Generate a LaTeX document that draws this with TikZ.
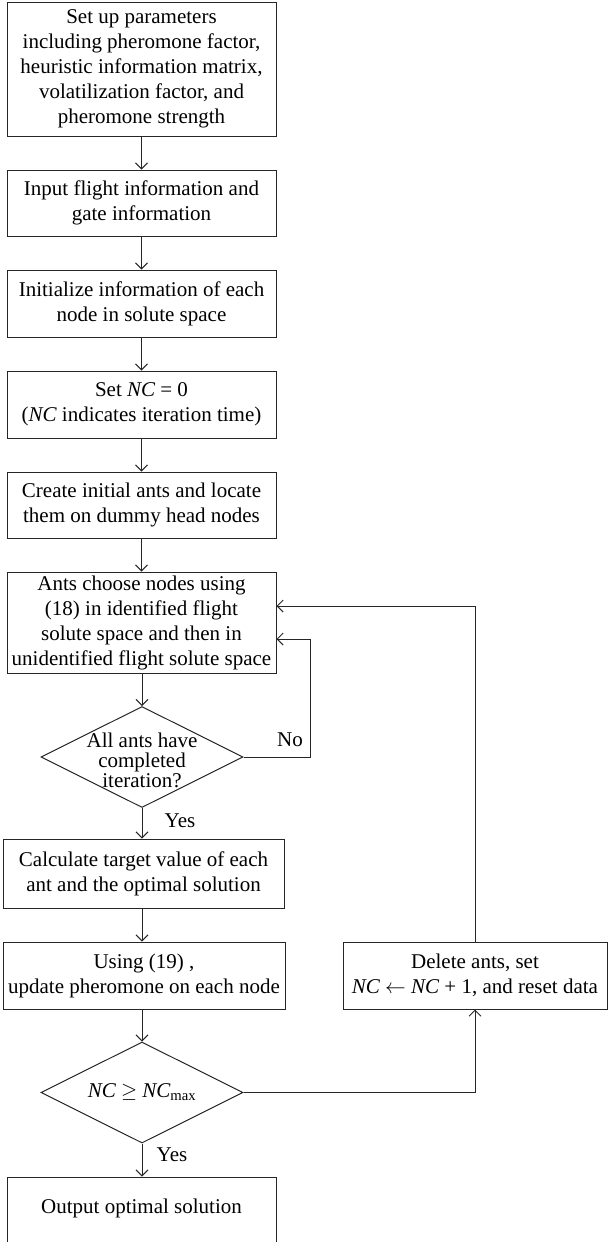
\documentclass[tikz,border=0pt]{standalone}
\usepackage{fontspec}
\setmainfont{Liberation Serif}
\usetikzlibrary{arrows.meta,shapes.geometric}
\newcommand\bfnt{\fontsize{21}{25}\selectfont}
\newcommand\dfnt{\fontsize{21}{20}\selectfont}
\newcommand\ncv{{\itshape NC}}
\begin{document}
\begin{tikzpicture}[x=1pt,y=-1pt,
  line/.style={draw=black!85, line width=1pt},
  box/.style={line, rectangle, minimum width=269pt, inner sep=0pt, align=center, font=\bfnt},
  dia/.style={line, diamond, minimum width=202pt, minimum height=101pt, inner sep=0pt},
  dtext/.style={align=center, font=\dfnt, inner sep=0pt},
  lbl/.style={font=\bfnt, inner sep=0pt},
  arr/.style={line, -{Straight Barb[length=6pt,width=12pt]}}]
\useasboundingbox (0,0) rectangle (608,1242);
\clip (0,0) rectangle (608,1242);

\node[box, minimum height=134pt] (b1) at (141.5,69) {Set up parameters\\including pheromone factor,\\heuristic information matrix,\\volatilization factor, and\\pheromone strength};
\node[box, minimum height=66pt] (b2) at (141.5,203) {Input flight information and\\gate information};
\node[box, minimum height=67pt] (b3) at (141.5,303.5) {Initialize information of each\\node in solute space};
\node[box, minimum height=67pt] (b4) at (141.5,404.5) {Set \ncv{} = 0\\(\ncv{} indicates iteration time)};
\node[box, minimum height=66pt] (b5) at (141.5,505) {Create initial ants and locate\\them on dummy head nodes};
\node[box, minimum height=101pt] (b6) at (141.5,622.5) {Ants choose nodes using\\(18) in identified flight\\solute space and then in\\unidentified flight solute space};
\node[dia] (d1) at (142,757) {};
\node[dtext] (d1t) at (142,760) {All ants have\\completed\\iteration?};
\node[box, minimum width=281pt, minimum height=69pt] (b7) at (143.5,873.5) {Calculate target value of each\\ant and the optimal solution};
\node[box, minimum width=282pt, minimum height=67pt] (b8) at (144,975.5) {Using (19) ,\\update pheromone on each node};
\node[dia] (d2) at (142,1092.5) {};
\node[dtext, font=\bfnt] (d2t) at (142,1092.5) {\ncv{} $\geq$ \ncv\textsubscript{max}};
\node[box, minimum width=264pt, minimum height=67pt] (del) at (475,975.5) {Delete ants, set\\\ncv{} $\leftarrow$ \ncv{} + 1, and reset data};
\node[box, minimum height=80pt] (out) at (141.5,1217) {};
\node[lbl] (outt) at (141.5,1208) {Output optimal solution};

\draw[arr] (b1) -- (b2);
\draw[arr] (b2) -- (b3);
\draw[arr] (b3) -- (b4);
\draw[arr] (b4) -- (b5);
\draw[arr] (b5) -- (b6);
\draw[arr] (b6.south -| d1.north) -- (d1.north);
\draw[arr] (d1.south) -- (b7.north -| d1.south);
\draw[arr] (b7.south -| d1.south) -- (b8.north -| d1.south);
\draw[arr] (b8.south -| d2.north) -- (d2.north);
\draw[arr] (d2.south) -- (out.north -| d2.south);
\coordinate (nocorner) at (310,757);
\draw[arr] (d1.east) -- (nocorner) |- ([yshift=-16.5pt]b6.east);
\draw[arr] (d2.east) -| (del.south);
\draw[arr] (del.north) |- ([yshift=16.5pt]b6.east);

\node[lbl] (no) at (290,740) {No};
\node[lbl] (yes1) at (180,821) {Yes};
\node[lbl] (yes2) at (172,1155) {Yes};
\end{tikzpicture}
\end{document}
